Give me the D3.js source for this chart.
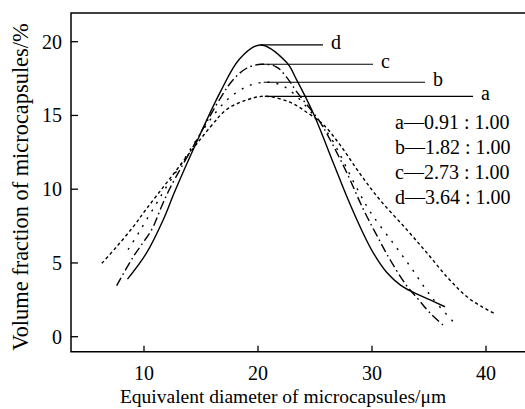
<!DOCTYPE html>
<html><head><meta charset="utf-8">
<script src="https://cdn.jsdelivr.net/npm/d3@7"></script>
<style>html,body{margin:0;padding:0;background:#fff;}svg{display:block;}</style>
</head><body>
<svg id="chart" width="525" height="409"></svg>
<script>
const xTicks = [10, 20, 30, 40];
const yTicks = [0, 5, 10, 15, 20];
const seriesNames = ["a", "b", "c", "d"];
const ratioLabels = ["0.91 : 1.00", "1.82 : 1.00", "2.73 : 1.00", "3.64 : 1.00"];
const xTitle = "Equivalent diameter of microcapsules/\u03bcm";
const yTitle = "Volume fraction of microcapsules/%";

const seriesA = [[6.3,4.97],[7.6,6.1],[9.06,7.46],[10.2,8.65],[12.3,10.75],[15.8,14.2],[17.25,15.4],[19.0,16.05],[20.6,16.3],[22.8,15.9],[24.3,15.2],[25.7,14.4],[27.2,13.0],[28.9,11.1],[30.7,9.27],[33.0,7.3],[34.8,5.7],[36.7,3.95],[38.5,2.6],[40.8,1.54]];
const seriesB = [[8.6,5.9],[9.5,7.0],[10.2,7.9],[11.1,9.04],[11.8,9.95],[13.5,12.0],[14.9,13.7],[16.5,15.4],[17.5,16.2],[19.0,16.95],[20.5,17.25],[21.9,17.1],[23.1,16.5],[24.9,15.0],[26.3,13.6],[28.65,10.1],[29.9,8.4],[31.9,6.3],[33.5,4.6],[35.2,2.71],[37.4,0.79]];
const seriesC = [[7.6,3.46],[9.06,5.42],[10.7,7.3],[11.55,8.85],[12.3,10.1],[14.6,13.3],[16.8,16.3],[17.8,17.4],[19.0,18.2],[20.3,18.47],[21.6,18.3],[22.5,17.6],[23.4,16.6],[25.4,14.6],[26.5,13.1],[27.8,11.1],[29.2,8.7],[30.4,6.9],[31.6,5.2],[33.0,3.5],[34.1,2.5],[35.1,1.6],[36.4,0.68]];
const seriesD = [[8.55,3.9],[10.2,5.65],[11.7,7.95],[12.7,9.85],[14.5,13.0],[16.7,16.6],[18.4,18.85],[20.2,19.78],[22.5,18.6],[23.4,17.4],[24.85,15.15],[26.6,11.8],[27.9,9.3],[29.2,7.05],[30.1,5.7],[31.3,4.35],[32.5,3.5],[33.5,3.05],[35.1,2.49],[36.4,2.03]];
const allSeries = [seriesA, seriesB, seriesC, seriesD];

const svg = d3.select("#chart");
const font = "'Liberation Serif','Times New Roman',serif";
const pLeft = 71, pTop = 13, pBottom = 351.7, pRight = 525;
const x = d3.scaleLinear().domain([10, 40]).range([144, 486]);
const y = d3.scaleLinear().domain([0, 20]).range([336.7, 41.7]);

const dashes = ["3.2,2.8", "2,7", "9,3.5,1.6,3.5", null];

// frame
svg.append("path").attr("d", `M${pRight},${pTop}H${pLeft}V${pBottom}H${pRight}`)
  .attr("fill", "none").attr("stroke", "#000").attr("stroke-width", 1.5);

// y ticks
yTicks.forEach(v => {
  svg.append("line").attr("x1", pLeft).attr("x2", pLeft + 7).attr("y1", y(v)).attr("y2", y(v))
    .attr("stroke", "#000").attr("stroke-width", 1.3);
  svg.append("text").attr("x", 62).attr("y", y(v)).attr("dy", "0.34em")
    .attr("text-anchor", "end").attr("font-family", font).attr("font-size", 20).text(v);
});
// x ticks
xTicks.forEach(v => {
  svg.append("line").attr("x1", x(v)).attr("x2", x(v)).attr("y1", pBottom).attr("y2", pBottom - 6)
    .attr("stroke", "#000").attr("stroke-width", 1.3);
  svg.append("text").attr("x", x(v)).attr("y", 380)
    .attr("text-anchor", "middle").attr("font-family", font).attr("font-size", 20).text(v);
});

svg.append("text").attr("x", 283).attr("y", 403).attr("text-anchor", "middle")
  .attr("font-family", font).attr("font-size", 19.5).text(xTitle);
svg.append("text").attr("transform", "translate(27.5,187) rotate(-90)").attr("text-anchor", "middle")
  .attr("font-family", font).attr("font-size", 22.4).text(yTitle);

const line = d3.line().x(d => x(d[0])).y(d => y(d[1])).curve(d3.curveCatmullRom.alpha(0.5));
allSeries.forEach((s, i) => {
  const p = svg.append("path").attr("d", line(s)).attr("fill", "none")
    .attr("stroke", "#000").attr("stroke-width", 1.4);
  if (dashes[i]) p.attr("stroke-dasharray", dashes[i]);
});

// leader lines to series letters
const labelEnd = [38.86, 34.65, 30.09, 25.7];
allSeries.forEach((s, i) => {
  const pk = s.reduce((a, b) => b[1] > a[1] ? b : a);
  svg.append("line").attr("x1", x(pk[0])).attr("x2", x(labelEnd[i]))
    .attr("y1", y(pk[1])).attr("y2", y(pk[1])).attr("stroke", "#000").attr("stroke-width", 1.2);
  svg.append("text").attr("x", x(labelEnd[i]) + 8).attr("y", y(pk[1]) + 4)
    .attr("font-family", font).attr("font-size", 20).text(seriesNames[i]);
});

// ratio legend
seriesNames.forEach((n, i) => {
  svg.append("text").attr("x", 395).attr("y", 128.5 + i * 25)
    .attr("font-family", font).attr("font-size", 20).text(n + "\u2014" + ratioLabels[i]);
});
</script>
</body></html>
